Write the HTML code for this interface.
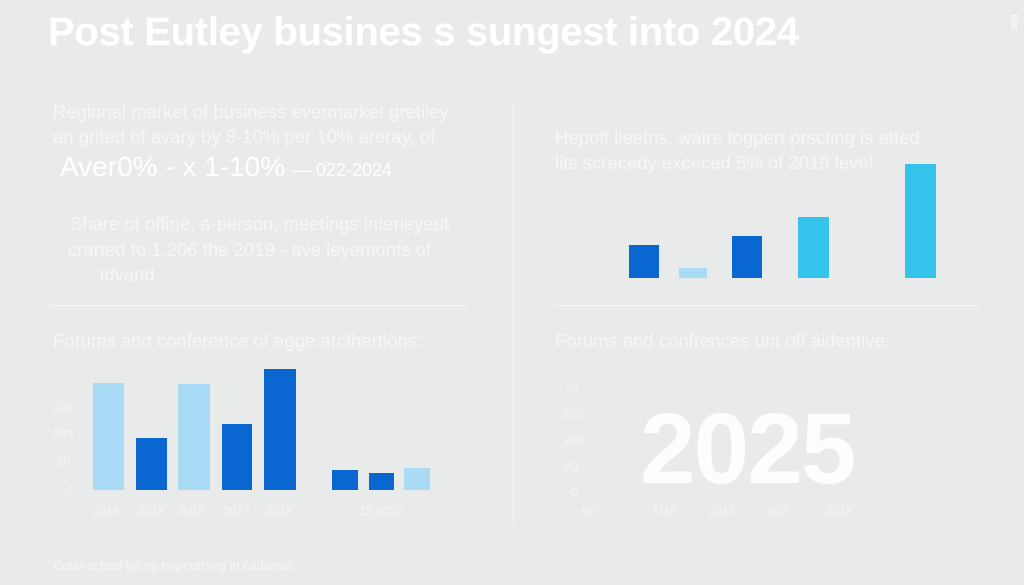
<!DOCTYPE html><html><head><style>
body{margin:0;width:1024px;height:585px;background:#e9eaea;font-family:"Liberation Sans",sans-serif;color:#fff;position:relative;overflow:hidden}
div{position:absolute;white-space:nowrap}
.t{font-size:18.5px;color:#f7f7f7}
.b{position:absolute}
.L{background:#a9daf6}.D{background:#0a66d0}.C{background:#35c3ec}
.s{font-size:12px;color:#f5f5f5}
</style></head><body>
<div style="left:48px;top:10px;font-size:40px;font-weight:bold;letter-spacing:-0.3px">Post Eutley busines s sungest into 2024</div>
<div style="left:1005px;top:18px;font-size:10px;transform:rotate(90deg)">lico:</div>
<div class="t" style="left:53px;top:101px">Regional market of business evermarket gretiley</div>
<div class="t" style="left:53px;top:126px">an grited of avary by 8-10% per 10% areray, of</div>
<div style="left:60px;top:151px;font-size:28px">Aver0% - x 1-10% <span style="font-size:18px">— 022-2024</span></div>
<div class="t" style="left:70px;top:213px">Share of offine, a-person, meetings interieyeut</div>
<div class="t" style="left:68px;top:239px">crarted to 1,206 the 2019 - ave leyemonts of</div>
<div class="t" style="left:100px;top:264px">idvand</div>
<div style="left:513px;top:103px;width:1px;height:422px;background:#f8f8f8"></div>
<div class="t" style="left:555px;top:127px">Hepoff lleetns, waire togpert prscting is atted</div>
<div class="t" style="left:555px;top:152px">lits screcedy exceced 5% of 2019 level.</div>
<div class="b D" style="left:629px;top:245px;width:30px;height:33px"></div>
<div class="b L" style="left:679px;top:268px;width:28px;height:10px"></div>
<div class="b D" style="left:732px;top:236px;width:30px;height:42px"></div>
<div class="b C" style="left:798px;top:217px;width:31px;height:61px"></div>
<div class="b C" style="left:905px;top:164px;width:31px;height:114px"></div>
<div style="left:50px;top:305px;width:415px;height:1px;background:#f8f8f8"></div>
<div style="left:555px;top:305px;width:422px;height:1px;background:#f8f8f8"></div>
<div class="t" style="left:53px;top:330px">Forums and conference of agge arcthertions:</div>
<div class="t" style="left:555px;top:330px">Forums and confrences unt off aidentive:</div>
<div class="s" style="left:53px;top:400px">205</div><div class="s" style="left:53px;top:427px">200</div><div class="s" style="left:57px;top:455px">60</div><div class="s" style="left:67px;top:482px">0</div>
<div class="b L" style="left:93px;top:383px;width:31px;height:107px"></div>
<div class="b D" style="left:136px;top:438px;width:31px;height:52px"></div>
<div class="b L" style="left:178px;top:384px;width:32px;height:106px"></div>
<div class="b D" style="left:222px;top:424px;width:30px;height:66px"></div>
<div class="b D" style="left:264px;top:369px;width:32px;height:121px"></div>
<div class="b D" style="left:332px;top:470px;width:26px;height:20px"></div>
<div class="b D" style="left:369px;top:473px;width:25px;height:17px"></div>
<div class="b L" style="left:404px;top:468px;width:26px;height:22px"></div>
<div class="s" style="left:93px;top:504px">2019</div><div class="s" style="left:138px;top:504px">2018</div><div class="s" style="left:178px;top:504px">JULY</div><div class="s" style="left:223px;top:504px">2017</div><div class="s" style="left:266px;top:504px">2018</div><div class="s" style="left:359px;top:504px">15,2020</div>
<div class="s" style="left:565px;top:382px">75</div><div class="s" style="left:563px;top:407px">300</div><div class="s" style="left:563px;top:434px">200</div><div class="s" style="left:565px;top:460px">80</div><div class="s" style="left:571px;top:485px">0</div>
<div style="left:640px;top:392px;font-size:100px;font-weight:bold;letter-spacing:-2px;color:#fdfdfd">2025</div>
<div class="s" style="left:582px;top:504px">BIT</div><div class="s" style="left:652px;top:504px">TME</div><div class="s" style="left:709px;top:504px">2017</div><div class="s" style="left:766px;top:504px">SUT</div><div class="s" style="left:826px;top:504px">2018</div>
<div style="left:53px;top:558px;font-size:13px;color:#f7f7f7">Cotle sched for ny nopnothing in cadienct.</div>
</body></html>
